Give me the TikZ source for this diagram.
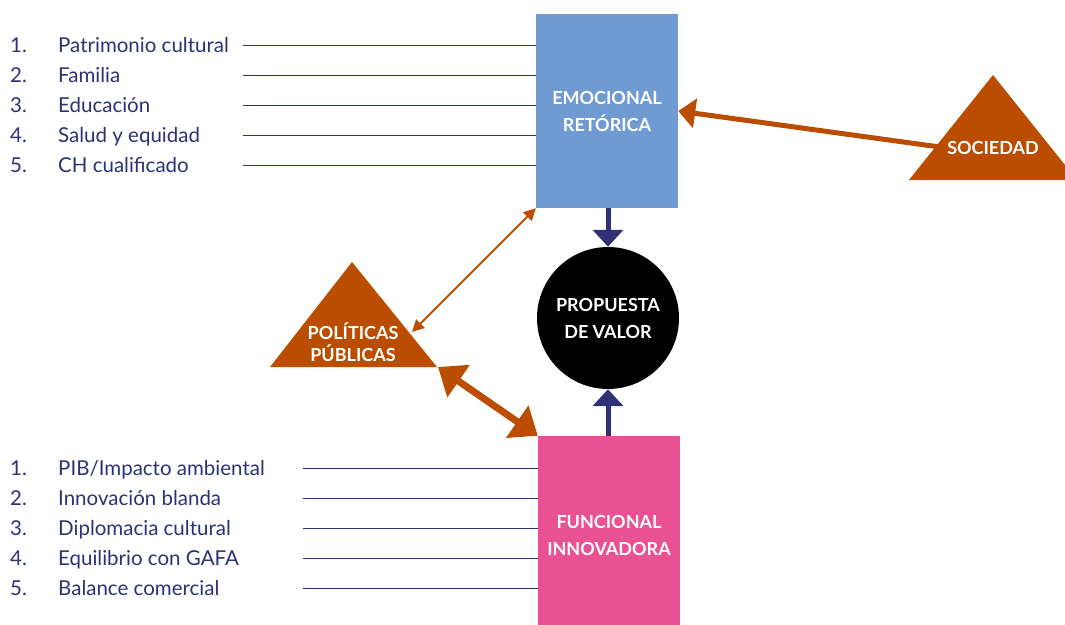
\documentclass[tikz,border=0pt]{standalone}
\usepackage{fontspec}
\setmainfont{Lato}
\usetikzlibrary{arrows.meta,positioning,calc}
\definecolor{emoblue}{RGB}{112,155,210}
\definecolor{funpink}{RGB}{232,82,146}
\definecolor{rust}{RGB}{187,77,0}
\definecolor{navy}{RGB}{46,49,117}
\begin{document}
\begin{tikzpicture}[x=1pt,y=-1pt,
		box/.style={rectangle,inner sep=0pt,minimum width=142pt,text=white,align=center,font=\bfseries\fontsize{18}{27}\selectfont},
		lbl/.style={text=white,align=center,inner sep=0pt,font=\bfseries\fontsize{18}{22}\selectfont},
		item/.style={anchor=base west,inner sep=0pt,text=navy,font=\fontsize{20.5}{20.5}\selectfont},
		tie/.style={navy,line width=0.9pt},
		feed/.style={navy,line width=5pt,-{Triangle[width=30pt,length=17pt]}},
		push/.style={rust,line width=5pt,-{Triangle[width=29pt,length=17pt]}},
		link/.style={rust,line width=2pt,{Triangle[width=12pt,length=12pt]}-{Triangle[width=12pt,length=12pt]}},
		bond/.style={rust,line width=7pt,{Triangle[width=38pt,length=25pt]}-{Triangle[width=38pt,length=25pt]}}]
	\useasboundingbox (0,0) rectangle (1065,624);
	\clip (0,0) rectangle (1065,624);
	% boxes and value
	\node (emo) [box,fill=emoblue,minimum height=194pt] at (607,111) {EMOCIONAL\\RETÓRICA};
	\node (fun) [box,fill=funpink,minimum height=198pt] at (609,535) {FUNCIONAL\\INNOVADORA};
	\node (val) [circle,fill=black,minimum size=142pt,inner sep=0pt,text=white,align=center,
		font=\bfseries\fontsize{18}{27}\selectfont] at (608,318) {PROPUESTA\\DE VALOR};
	\draw [feed] (emo.south -| val) -- (val.north);
	\draw [feed] (fun.north -| val) -- (val.south);
	% triangles
	\fill [rust] (909,180) -- (993,75) -- (1077,180) -- cycle;
	\node (soc) [lbl] at (993,148) {SOCIEDAD};
	\fill [rust] (270,367) -- (352,262) -- (437,367) -- cycle;
	\node (pol) [lbl] at (353,342) {POLÍTICAS\\PÚBLICAS};
	\coordinate (pol-e) at (412,332);
	\coordinate (pol-c) at (438,367);
	\draw [push] (soc.west) -- (emo.east);
	\draw [link] (pol-e) -- (emo.south west);
	\draw [bond] (pol-c) -- (fun.north west);
	% lists
	\foreach \t [count=\i] in {Patrimonio cultural,Familia,Educación,Salud y equidad,CH cualificado} {
		\node (en\i) [item] at (10,22+30*\i) {\i.};
		\node (et\i) [item] at (58,22+30*\i) {\t};
		\coordinate (ea\i) at (243,15+30*\i);
		\draw [tie] (ea\i) -- (emo.west |- ea\i);
	}
	\foreach \t [count=\i] in {PIB/Impacto ambiental,Innovación blanda,Diplomacia cultural,Equilibrio con GAFA,Balance comercial} {
		\node (fn\i) [item] at (10,445+30*\i) {\i.};
		\node (ft\i) [item] at (58,445+30*\i) {\t};
		\coordinate (fa\i) at (303,438+30*\i);
		\draw [tie] (fa\i) -- (fun.west |- fa\i);
	}
\end{tikzpicture}
\end{document}
